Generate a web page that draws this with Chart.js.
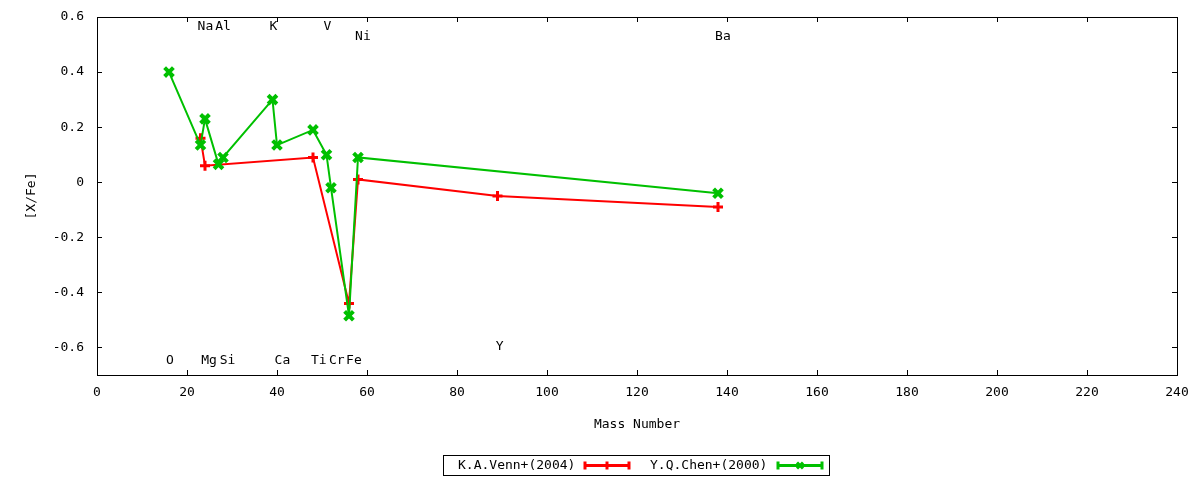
<!DOCTYPE html>
<html>
<head>
<meta charset="utf-8">
<script src="https://cdn.jsdelivr.net/npm/chart.js@4.4.1/dist/chart.umd.min.js"></script>
<style>
html,body{margin:0;padding:0;background:#fff;}
#wrap{width:1200px;height:480px;}
</style>
</head>
<body>
<div id="wrap"><canvas id="c" width="1200" height="480"></canvas></div>
<script>
// ---- data ----
const vennMass   = [23, 24, 48, 56, 58, 89, 138];
const vennValues = [0.16, 0.06, 0.09, -0.44, 0.01, -0.05, -0.09];

const chenMass   = [16, 23, 24, 27, 28, 39, 40, 48, 51, 52, 56, 58, 138];
const chenValues = [0.40, 0.135, 0.23, 0.065, 0.09, 0.30, 0.135, 0.19, 0.10, -0.02, -0.485, 0.09, -0.04];

const seriesNames = ['K.A.Venn+(2004)', 'Y.Q.Chen+(2000)'];

const xTicks = [0, 20, 40, 60, 80, 100, 120, 140, 160, 180, 200, 220, 240];
const yTicks = [-0.6, -0.4, -0.2, 0, 0.2, 0.4, 0.6];

const elementNames = ['O', 'Na', 'Mg', 'Al', 'Si', 'K', 'Ca', 'Ti', 'V', 'Cr', 'Fe', 'Ni', 'Y', 'Ba'];
const elementX     = [16.2, 24.1, 24.9, 28.0, 29.0, 39.2, 41.2, 49.3, 51.2, 53.3, 57.1, 59.1, 89.5, 139.1];
const elementY     = [-0.647, 0.564, -0.647, 0.564, -0.647, 0.564, -0.647, -0.647, 0.564, -0.647, -0.647, 0.528, -0.596, 0.528];

// ---- styles ----
const FONT = '"DejaVu Sans Mono", "Liberation Mono", monospace';
const RED = '#ff0000';
const GREEN = '#00c000';

const toPts = (xs, ys) => xs.map((x, i) => ({x: x, y: ys[i]}));

const framePlugin = {
  id: 'frame',
  afterDraw(chart) {
    const {ctx, chartArea: a, scales: {x, y}} = chart;
    ctx.save();
    ctx.strokeStyle = '#000';
    ctx.lineWidth = 1;
    ctx.strokeRect(Math.round(a.left) + 0.5, Math.round(a.top) + 0.5,
                   Math.round(a.right) - Math.round(a.left), Math.round(a.bottom) - Math.round(a.top));
    const tl = 5;
    ctx.beginPath();
    xTicks.forEach(v => {
      const px = Math.round(x.getPixelForValue(v)) + 0.5;
      ctx.moveTo(px, a.bottom); ctx.lineTo(px, a.bottom - tl);
      ctx.moveTo(px, a.top); ctx.lineTo(px, a.top + tl);
    });
    yTicks.forEach(v => {
      const py = Math.round(y.getPixelForValue(v)) + 0.5;
      ctx.moveTo(a.left, py); ctx.lineTo(a.left + tl, py);
      ctx.moveTo(a.right, py); ctx.lineTo(a.right - tl, py);
    });
    ctx.stroke();

    // element labels
    ctx.fillStyle = '#000';
    ctx.font = '13px ' + FONT;
    ctx.textAlign = 'center';
    ctx.textBaseline = 'middle';
    elementNames.forEach((n, i) => {
      ctx.fillText(n, x.getPixelForValue(elementX[i]), y.getPixelForValue(elementY[i]));
    });

    // legend (gnuplot style: text then sample)
    const cx = (a.left + a.right) / 2;
    const bl = Math.round(cx - 194), bt = 455, bw = 386, bh = 20;
    ctx.strokeRect(bl + 0.5, bt + 0.5, bw, bh);
    const cy = bt + bh / 2 + 0.5;
    const entries = [
      {name: seriesNames[0], color: RED, tx: 15, s0: 142, s1: 186, style: 'cross'},
      {name: seriesNames[1], color: GREEN, tx: 207, s0: 335, s1: 379, style: 'crossRot'}
    ];
    ctx.textAlign = 'left';
    entries.forEach(e => {
      ctx.fillStyle = '#000';
      ctx.fillText(e.name, bl + e.tx, cy);
      ctx.strokeStyle = e.color;
      ctx.lineWidth = 3;
      ctx.beginPath();
      ctx.moveTo(bl + e.s0, cy); ctx.lineTo(bl + e.s1, cy);
      ctx.moveTo(bl + e.s0, cy - 4); ctx.lineTo(bl + e.s0, cy + 4);
      ctx.moveTo(bl + e.s1, cy - 4); ctx.lineTo(bl + e.s1, cy + 4);
      ctx.stroke();
      const mx = bl + (e.s0 + e.s1) / 2;
      ctx.beginPath();
      if (e.style === 'cross') {
        ctx.moveTo(mx, cy - 4); ctx.lineTo(mx, cy + 4);
      } else {
        ctx.moveTo(mx - 3, cy - 3); ctx.lineTo(mx + 3, cy + 3);
        ctx.moveTo(mx - 3, cy + 3); ctx.lineTo(mx + 3, cy - 3);
      }
      ctx.stroke();
    });
    ctx.restore();
  }
};

new Chart(document.getElementById('c'), {
  type: 'line',
  data: {
    datasets: [
      {
        label: seriesNames[0],
        data: toPts(vennMass, vennValues),
        borderColor: RED,
        backgroundColor: RED,
        borderWidth: 2,
        pointStyle: 'cross',
        pointRadius: 5,
        pointBorderWidth: 3,
        pointBorderColor: RED,
        tension: 0,
        fill: false,
        order: 1
      },
      {
        label: seriesNames[1],
        data: toPts(chenMass, chenValues),
        borderColor: GREEN,
        backgroundColor: GREEN,
        borderWidth: 2,
        pointStyle: 'crossRot',
        pointRadius: 6.2,
        pointBorderWidth: 4,
        pointBorderColor: GREEN,
        tension: 0,
        fill: false,
        order: 0
      }
    ]
  },
  options: {
    responsive: false,
    animation: false,
    devicePixelRatio: 1,
    layout: {padding: {left: 24, right: 23, top: 17, bottom: 48}},
    plugins: {
      legend: {display: false},
      tooltip: {enabled: false}
    },
    scales: {
      x: {
        type: 'linear',
        min: 0, max: 240,
        afterBuildTicks: s => { s.ticks = xTicks.map(v => ({value: v})); },
        afterFit: s => { s.height = 57; s.paddingLeft = 0; s.paddingRight = 0; s.paddingTop = 0; s.paddingBottom = 0; },
        grid: {display: false, drawTicks: false, tickLength: 0},
        border: {display: false},
        ticks: {
          color: '#000',
          padding: 10,
          maxRotation: 0,
          autoSkip: false,
          font: {family: FONT, size: 13},
          callback: v => String(v)
        },
        title: {
          display: true,
          text: 'Mass Number',
          color: '#000',
          padding: 0,
          font: {family: FONT, size: 13}
        }
      },
      y: {
        type: 'linear',
        min: -0.7, max: 0.6,
        afterBuildTicks: s => { s.ticks = yTicks.map(v => ({value: v})); },
        afterFit: s => { s.width = 73; s.paddingLeft = 0; s.paddingRight = 0; s.paddingTop = 0; s.paddingBottom = 0; },
        grid: {display: false, drawTicks: false, tickLength: 0},
        border: {display: false},
        ticks: {
          color: '#000',
          padding: 13,
          autoSkip: false,
          font: {family: FONT, size: 13},
          callback: v => String(Number(v.toFixed(1)))
        },
        title: {
          display: true,
          text: '[X/Fe]',
          color: '#000',
          padding: 0,
          font: {family: FONT, size: 13}
        }
      }
    }
  },
  plugins: [framePlugin]
});
</script>
</body>
</html>
